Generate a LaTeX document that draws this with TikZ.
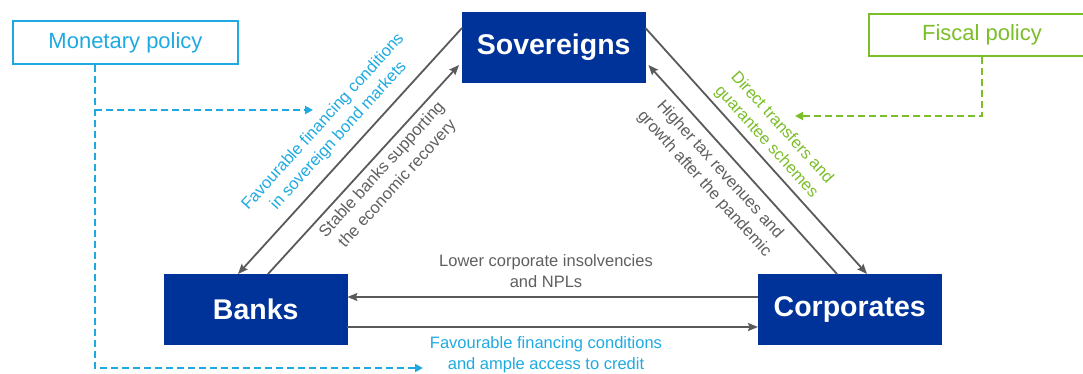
\documentclass[tikz,border=0pt]{standalone}
\usepackage{fontspec}
\setmainfont{Liberation Sans}
\usetikzlibrary{arrows.meta,calc}
\definecolor{navy}{RGB}{0,51,153}
\definecolor{mblue}{RGB}{30,170,225}
\definecolor{fgreen}{RGB}{122,190,40}
\definecolor{arrgray}{RGB}{90,90,90}
\definecolor{txtgray}{RGB}{95,95,95}
\begin{document}
\begin{tikzpicture}[x=1pt,y=-1pt,
  actor/.style={fill=navy, draw=navy, text=white,
    font=\fontsize{28.5}{30}\selectfont\bfseries,
    minimum width=183pt, minimum height=70pt, inner sep=0pt, anchor=north west},
  policy/.style={draw=#1, text=#1, line width=2pt, fill=white,
    font=\fontsize{22}{24}\selectfont, inner sep=0pt, anchor=north west},
  flow/.style={draw=arrgray, line width=1.8pt, -{Stealth[length=10pt,width=8pt,inset=1.5pt]}},
  dashflow/.style={draw=#1, line width=2.2pt, dash pattern=on 7pt off 4pt,
    -{Triangle[length=8pt,width=8pt]}},
  lbl/.style={font=\fontsize{16.5}{21}\selectfont, align=center, inner sep=0pt},
]
\useasboundingbox (0,0) rectangle (1083,374);

% the three sectors
\node[actor] (sov)   at (462,12)  {Sovereigns};
\node[actor] (banks) at (164,274) {Banks};
\node[actor] (corp)  at (758,274) {Corporates};

% policy boxes
\node[policy=mblue, minimum width=225pt, minimum height=43pt] (mon) at (12,20) {Monetary policy};
\node[policy=fgreen, minimum width=226pt, minimum height=42pt] (fis) at (868,13) {Fiscal policy};

% links between sectors
\draw[flow] ($(sov.north west)+(0,16)$) -- ($(banks.north west)+(74,0)$);
\draw[flow] ($(banks.north west)+(104,0)$) -- ($(sov.north west)+(-3,53)$);
\draw[flow] ($(sov.north east)+(0,16)$) -- ($(corp.north west)+(109,0)$);
\draw[flow] ($(corp.north west)+(79,0)$) -- ($(sov.north east)+(3,53)$);
\draw[flow] ($(corp.north west)+(0,23)$) -- ($(banks.north east)+(0,23)$);
\draw[flow] ($(banks.north east)+(0,53)$) -- ($(corp.north west)+(0,53)$);

% policy channels
\coordinate (mtop)    at ($(mon.south west)+(83,0)$);
\coordinate (mend)    at (423,368);
\coordinate (mbranch) at (95,110);
\coordinate (mbend)   at (313,110);
\coordinate (fend)    at (795,116);
\draw[dashflow=mblue] (mtop) |- (mend);
\draw[dashflow=mblue] (mbranch) -- (mbend);
\draw[dashflow=fgreen] (fis.south) |- (fend);

% labels
\node[lbl, text=mblue, rotate=47.7] (l1) at (331,129)
  {Favourable financing conditions\\in sovereign bond markets};
\node[lbl, text=txtgray, rotate=47.7] (l2) at (390,177)
  {Stable banks supporting\\the economic recovery};
\node[lbl, text=txtgray, rotate=-47.9] (l3) at (712,177)
  {Higher tax revenues and\\growth after the pandemic};
\node[lbl, text=fgreen, rotate=-47.9] (l4) at (774,135)
  {Direct transfers and\\guarantee schemes};
\node[lbl, text=txtgray] (l5) at (546,271)
  {Lower corporate insolvencies\\and NPLs};
\node[lbl, text=mblue] (l6) at (546,355)
  {Favourable financing conditions\\and ample access to credit};
\end{tikzpicture}
\end{document}
